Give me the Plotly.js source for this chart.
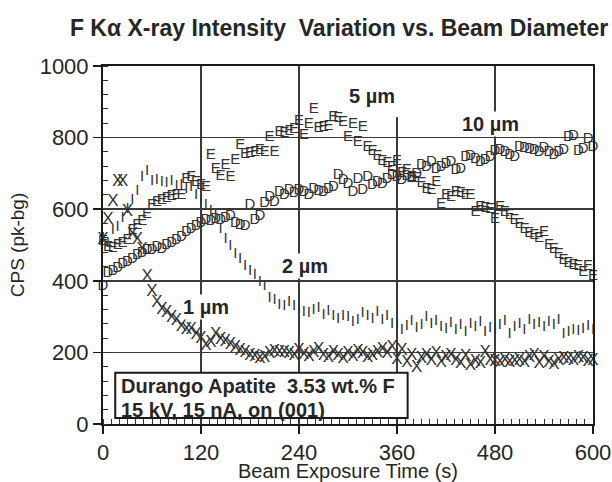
<!DOCTYPE html>
<html>
<head>
<meta charset="utf-8">
<script src="https://cdn.plot.ly/plotly-3.0.1.min.js"></script>
<style>html,body{margin:0;padding:0;background:#fff;}#chart{width:612px;height:482px;}</style>
</head>
<body>
<div id="chart"></div>
<script>
// Beam exposure time (s)
const time_s = [
  0,6,12,18,24,30,36,42,48,54,
  60,66,72,78,84,90,96,102,108,114,
  120,126,132,138,144,150,156,162,168,174,
  180,186,192,198,204,210,216,222,228,234,
  240,246,252,258,264,270,276,282,288,294,
  300,306,312,318,324,330,336,342,348,354,
  360,366,372,378,384,390,396,402,408,414,
  420,426,432,438,444,450,456,462,468,474,
  480,486,492,498,504,510,516,522,528,534,
  540,546,552,558,564,570,576,582,588,594,
  600
];
// CPS (pk-bg) for 1 µm beam (marker X)
const cps_1um = [
  515,571,622,678,678,594,530,515,487,412,
  370,339,319,311,298,288,272,263,263,249,
  237,218,227,250,236,230,221,213,204,199,
  192,188,181,184,195,203,198,200,195,190,
  205,193,188,200,207,192,185,198,190,183,
  196,189,202,195,184,192,199,208,195,212,
  180,205,172,190,158,183,190,178,196,172,
  185,192,176,168,187,162,175,168,200,178,
  175,172,176,170,174,178,172,185,190,168,
  184,172,165,178,183,180,176,186,182,175,
  178
];
// 2 µm beam (marker I)
const cps_2um = [
  520,505,540,550,575,600,625,650,690,705,
  678,680,676,672,678,664,668,655,662,640,
  625,612,594,580,545,515,496,473,460,440,
  428,415,395,385,350,345,333,328,339,330,
  318,312,308,318,322,305,315,300,292,302,
  298,285,290,310,300,292,312,290,300,278,
  275,262,272,288,268,276,298,280,286,270,
  264,282,262,276,255,278,270,284,255,268,
  262,276,288,250,270,278,262,290,276,282,
  270,285,275,290,250,255,262,258,266,272,
  262
];
// 5 µm beam (marker E)
const cps_5um = [
  510,495,490,500,505,512,540,555,565,585,
  610,620,624,630,636,640,638,685,688,676,
  668,662,750,712,692,724,690,738,780,754,
  756,760,766,758,800,760,815,812,818,824,
  846,806,838,878,826,830,832,858,855,843,
  802,838,788,828,774,762,748,734,728,718,
  734,700,710,690,686,672,656,652,675,614,
  640,632,648,645,640,640,592,606,604,600,
  572,606,592,584,570,557,543,532,527,520,
  535,500,487,473,458,448,444,440,424,440,
  412
];
// 10 µm beam (marker D)
const cps_10um = [
  384,420,428,436,445,452,460,470,478,484,
  486,494,488,500,505,512,522,535,545,552,
  562,568,565,572,568,576,580,560,555,552,
  612,570,580,616,632,620,648,640,652,645,
  652,648,640,655,650,648,655,660,695,682,
  670,648,684,652,690,668,675,670,684,696,
  688,680,692,686,698,724,718,730,712,716,
  725,732,710,712,744,748,740,732,738,745,
  762,764,758,750,745,772,770,768,766,758,
  770,760,752,758,766,800,805,762,768,795,
  772
];
const seriesMarkers = ["X", "I", "E", "D"];
const seriesLabels = ["1 µm", "2 µm", "5 µm", "10 µm"];
const xTicks = [0, 120, 240, 360, 480, 600];
const yTicks = [0, 200, 400, 600, 800, 1000];
const titleText = "F Kα X-ray Intensity\u00a0 Variation vs. Beam Diameter";
const boxLine1 = "Durango Apatite\u00a0 3.53 wt.% F";
const boxLine2 = "15 kV, 15 nA, on (001)";

const FONT = "'Liberation Sans', Arial, Helvetica, sans-serif";
const INK = "#262626";
const allSeries = [cps_1um, cps_2um, cps_5um, cps_10um];
const markerSizes = [17, 15, 15, 15];

const traces = allSeries.map((vals, i) => ({
  type: "scatter",
  mode: "text",
  x: time_s,
  y: vals,
  text: vals.map(() => seriesMarkers[i]),
  textposition: "middle center",
  textfont: {family: FONT, size: markerSizes[i], color: "#333"},
  cliponaxis: false,
  hoverinfo: "skip",
  showlegend: false,
  name: seriesLabels[i]
}));

const labelPos = [
  {x: 126, y: 328},
  {x: 247, y: 440},
  {x: 329, y: 916},
  {x: 474, y: 837}
];
const annotations = seriesLabels.map((lab, i) => ({
  x: labelPos[i].x, y: labelPos[i].y, xref: "x", yref: "y",
  text: lab, showarrow: false,
  font: {family: FONT, size: 20, weight: "bold", color: INK},
  bgcolor: i === 2 ? "rgba(0,0,0,0)" : "#fff",
  borderpad: 1
}));
annotations.push({
  x: 20, y: 105, xref: "x", yref: "y", xanchor: "left", yanchor: "middle",
  text: boxLine1, showarrow: false,
  font: {family: FONT, size: 20, weight: "bold", color: INK}
});
annotations.push({
  x: 20, y: 40, xref: "x", yref: "y", xanchor: "left", yanchor: "middle",
  text: boxLine2, showarrow: false,
  font: {family: FONT, size: 20, weight: "bold", color: INK}
});

const layout = {
  width: 612, height: 482,
  margin: {l: 103, r: 19, t: 66, b: 58},
  paper_bgcolor: "#fff", plot_bgcolor: "#fff",
  font: {family: FONT, color: INK},
  title: {
    text: titleText,
    font: {family: FONT, size: 23, weight: "bold", color: INK},
    xref: "container", yref: "container",
    x: 0.554, xanchor: "center", y: 0.942, yanchor: "middle"
  },
  xaxis: {
    range: [0, 600], tickvals: xTicks, ticktext: xTicks.map(String),
    showgrid: true, gridcolor: "#3a3a3a", gridwidth: 1.5,
    zeroline: false, showline: true, linecolor: "#1a1a1a", linewidth: 2, mirror: true,
    ticks: "outside", ticklen: 8, tickwidth: 1.5, tickcolor: "#1a1a1a",
    tickfont: {family: FONT, size: 22, color: INK},
    minor: {dtick: 10, ticks: "inside", ticklen: 5, tickwidth: 1, tickcolor: "#333", showgrid: false},
    title: {text: "Beam Exposure Time (s)", font: {family: FONT, size: 20, color: INK}, standoff: 4},
    fixedrange: true
  },
  yaxis: {
    range: [0, 1000], tickvals: yTicks, ticktext: yTicks.map(String),
    showgrid: true, gridcolor: "#3a3a3a", gridwidth: 1.5,
    zeroline: false, showline: true, linecolor: "#1a1a1a", linewidth: 2, mirror: true,
    ticks: "outside", ticklen: 8, tickwidth: 1.5, tickcolor: "#1a1a1a",
    tickfont: {family: FONT, size: 22, color: INK},
    minor: {dtick: 40, ticks: "inside", ticklen: 5, tickwidth: 1, tickcolor: "#333", showgrid: false},
    title: {text: "CPS (pk-bg)", font: {family: FONT, size: 19, color: INK}, standoff: 10},
    fixedrange: true
  },
  shapes: [
    {type: "rect", xref: "x", yref: "y", x0: 352, x1: 368, y0: 857, y1: 1000,
     fillcolor: "#fff", line: {width: 0}, layer: "between"},
    {type: "rect", xref: "x", yref: "y", x0: 15, x1: 373, y0: 17, y1: 143,
     fillcolor: "#fff", line: {color: "#1a1a1a", width: 2}, layer: "above"}
  ],
  annotations: annotations
};

Plotly.newPlot("chart", traces, layout, {displayModeBar: false, staticPlot: true});
</script>
</body>
</html>
